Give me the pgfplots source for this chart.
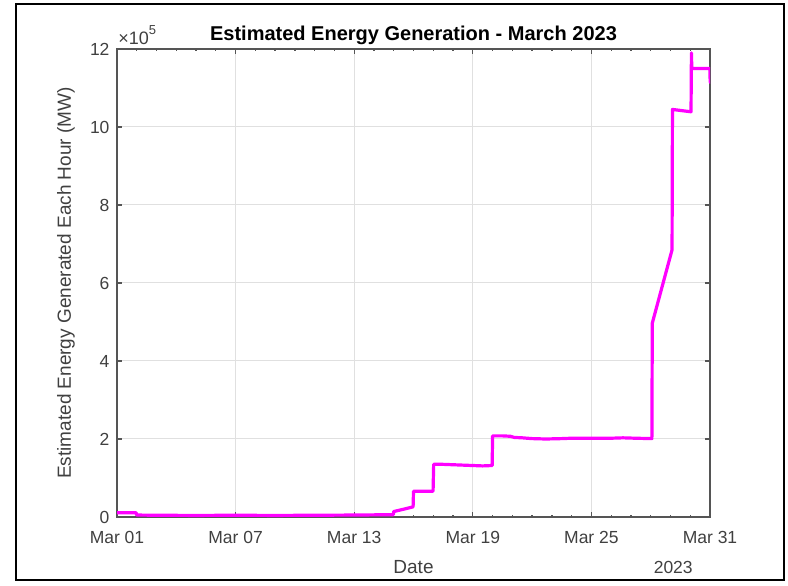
\documentclass[border=0pt]{standalone}
\usepackage{pgfplots}
\pgfplotsset{compat=1.18}
\usepackage{fontspec}
\setmainfont{Liberation Sans}
\definecolor{lblgray}{HTML}{404040}
\definecolor{axgray}{HTML}{555555}
\definecolor{gridgray}{HTML}{E0E0E0}
\begin{document}
\begin{tikzpicture}
\begin{axis}[
  name=main,
  scale only axis,
  width=593pt, height=468pt,
  xmin=0, xmax=30, ymin=0, ymax=12,
  xtick={0,6,12,18,24,30},
  xticklabels={Mar 01,Mar 07,Mar 13,Mar 19,Mar 25,Mar 31},
  ytick={0,2,4,6,8,10,12},
  minor xtick={1,2,3,4,5,7,8,9,10,11,13,14,15,16,17,19,20,21,22,23,25,26,27,28,29},
  scaled y ticks=false,
  /pgf/number format/assume math mode=true,
  tick align=inside,
  tick pos=both,
  major tick length=5pt,
  minor tick length=2.5pt,
  axis line style={axgray, line width=1.3pt},
  every tick/.style={axgray, line width=1.3pt},
  xmajorgrids, ymajorgrids,
  major grid style={gridgray, line width=1pt},
  ticklabel style={font=\fontsize{17.5}{20}\selectfont, text=lblgray},
  xticklabel style={yshift=-11pt},
  yticklabel style={xshift=-4pt},
  xlabel={Date},
  xlabel style={at={(axis description cs:0.5,-0.107)}, anchor=center, font=\fontsize{19}{22}\selectfont, text=lblgray},
  ylabel={Estimated Energy Generated Each Hour (MW)},
  ylabel style={at={(axis description cs:-0.086,0.5)}, anchor=center, font=\fontsize{19}{22}\selectfont, text=lblgray},
  title={Estimated Energy Generation - March 2023},
  every axis title shift=0pt,
  title style={at={(axis description cs:0.5,1.030)}, anchor=center, font=\fontsize{20}{23}\selectfont\bfseries, text=black},
  clip mode=individual,
]
\addplot[color={rgb,255:red,255;green,0;blue,255}, line width=3.2pt, sharp plot, line join=round] coordinates {
(0,0.11) (0.96,0.11) (1.0,0.05) (2,0.045) (4,0.04) (6,0.045) (8,0.04) (10,0.045) (12,0.05) (13.98,0.06)
(14.0,0.14) (14.5,0.2) (14.98,0.26) (15.0,0.66) (15.99,0.66) (16.02,1.35) (16.5,1.35) (17,1.34) (17.5,1.33)
(18,1.32) (18.5,1.31) (18.98,1.32) (19.0,2.08) (19.5,2.08) (19.9,2.07) (20.1,2.04) (20.5,2.03) (21,2.01)
(21.7,2.0) (22.5,2.01) (23,2.02) (24,2.02) (25,2.02) (25.6,2.03) (26.2,2.02) (27.06,2.01)
(27.08,4.97) (28.08,6.85) (28.1,10.45) (29.04,10.39) (29.06,11.9) (29.08,11.5) (29.99,11.5) (30.01,11.15) (30.2,11.1)
};
\node[anchor=south west, inner sep=0pt, font=\fontsize{18}{20}\selectfont, text=lblgray] at (axis description cs:0.002,1.008) {×10{\raisebox{0.55em}{\fontsize{13}{14}\selectfont 5}}};
\node[anchor=center, font=\fontsize{17.5}{20}\selectfont, text=lblgray] at (axis description cs:0.938,-0.107) {2023};
\end{axis}
\draw[black, line width=2pt] ([shift={(-101pt,-63pt)}]main.south west) rectangle ([shift={(74pt,45pt)}]main.north east);
\pgfresetboundingbox
\path ([shift={(-117pt,-68pt)}]main.south west) rectangle ([shift={(78pt,49pt)}]main.north east);
\end{tikzpicture}
\end{document}
